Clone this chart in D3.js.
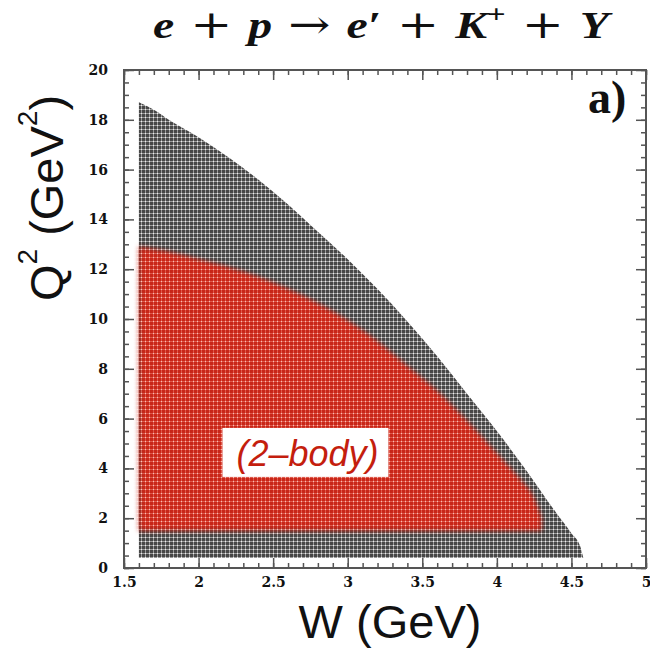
<!DOCTYPE html>
<html>
<head>
<meta charset="utf-8">
<script src="https://cdn.jsdelivr.net/npm/d3@7"></script>
<style>
  body { margin: 0; background: #fff; }
</style>
</head>
<body>
<script>
// Kinematic coverage
// outer (gray) region: upper Q2 edge for each W
var wGray = [1.60, 1.70, 1.80, 2.00, 2.20, 2.40, 2.60, 2.80, 3.00, 3.20, 3.40, 3.60, 3.80, 4.00, 4.20, 4.40, 4.50, 4.56, 4.58];
var q2GrayMax = [18.7, 18.4, 18.0, 17.3, 16.5, 15.6, 14.6, 13.5, 12.4, 11.2, 9.9, 8.5, 7.0, 5.5, 3.9, 2.2, 1.4, 0.85, 0.4];
var q2GrayMin = 0.4;

// 2-body (red) region
var wRed = [1.60, 1.80, 2.00, 2.30, 2.60, 2.90, 3.20, 3.40, 3.60, 3.80, 4.00, 4.15, 4.25, 4.30];
var q2RedMax = [12.9, 12.7, 12.4, 11.9, 11.2, 10.3, 9.1, 8.1, 7.1, 5.9, 4.6, 3.6, 2.8, 2.0];
var q2RedMin = 1.5;

// axes
var xMajor = [1.5, 2, 2.5, 3, 3.5, 4, 4.5, 5];
var xTickLabels = ['1.5', '2', '2.5', '3', '3.5', '4', '4.5', '5'];
var yMajor = [0, 2, 4, 6, 8, 10, 12, 14, 16, 18, 20];
var yTickLabels = ['0', '2', '4', '6', '8', '10', '12', '14', '16', '18', '20'];

// where the "(2-body)" tag sits (data units)
var tagW = 2.73, tagQ2 = 4.1;

window.onload = function(){
    var svg = d3.select('body')
        .append('svg')
        .attr('width', 650)
        .attr('height', 652);

    var x = d3.scaleLinear().domain([1.5, 5]).range([124, 646]);
    var y = d3.scaleLinear().domain([0, 20]).range([568, 70]);

    var defs = svg.append('defs');

    // histogram-box texture, gray
    var gp = defs.append('pattern')
        .attr('id', 'grayPat')
        .attr('patternUnits', 'userSpaceOnUse')
        .attr('width', 4).attr('height', 4);
    gp.append('rect').attr('width', 4).attr('height', 4).attr('fill', '#474747');
    gp.append('rect').attr('y', 1).attr('width', 4).attr('height', 1).attr('fill', '#9c9c9c');
    gp.append('rect').attr('x', 1).attr('width', 1).attr('height', 4).attr('fill', '#9c9c9c');
    gp.append('rect').attr('x', 1).attr('y', 1).attr('width', 1).attr('height', 1).attr('fill', '#eeeeee');

    // same texture, red
    var rp = defs.append('pattern')
        .attr('id', 'redPat')
        .attr('patternUnits', 'userSpaceOnUse')
        .attr('width', 4).attr('height', 4);
    rp.append('rect').attr('width', 4).attr('height', 4).attr('fill', '#c82618');
    rp.append('rect').attr('y', 1).attr('width', 4).attr('height', 1).attr('fill', '#e0584a');
    rp.append('rect').attr('x', 1).attr('width', 1).attr('height', 4).attr('fill', '#e0584a');
    rp.append('rect').attr('x', 1).attr('y', 1).attr('width', 1).attr('height', 1).attr('fill', '#f6c0b8');

    defs.append('filter').attr('id', 'soft')
        .append('feGaussianBlur').attr('stdDeviation', 2.5);

    var grayArea = d3.area()
        .x(function(d){ return x(d[0]); })
        .y0(y(q2GrayMin))
        .y1(function(d){ return y(d[1]); })
        .curve(d3.curveMonotoneX);

    var redArea = d3.area()
        .x(function(d){ return x(d[0]); })
        .y0(y(q2RedMin))
        .y1(function(d){ return y(d[1]); })
        .curve(d3.curveMonotoneX);

    var grayPts = d3.zip(wGray, q2GrayMax);
    var redPts = d3.zip(wRed, q2RedMax);

    svg.append('path')
        .attr('d', grayArea(grayPts))
        .attr('fill', 'url(#grayPat)');

    // red region gets soft edges via a blurred mask
    defs.append('mask')
        .attr('id', 'redMask')
        .attr('maskUnits', 'userSpaceOnUse')
        .attr('x', 0).attr('y', 0).attr('width', 650).attr('height', 652)
        .append('path')
        .attr('d', redArea(redPts))
        .attr('fill', '#fff')
        .attr('filter', 'url(#soft)');

    svg.append('rect')
        .attr('x', x(1.5)).attr('y', y(20))
        .attr('width', x(5) - x(1.5)).attr('height', y(0) - y(20))
        .attr('fill', 'url(#redPat)')
        .attr('mask', 'url(#redMask)');

    // "(2-body)" tag
    var tx = x(tagW), ty = y(tagQ2);
    svg.append('rect')
        .attr('x', tx - 85).attr('y', ty - 38)
        .attr('width', 166).attr('height', 49)
        .attr('fill', '#fff');
    svg.append('text')
        .attr('x', tx).attr('y', ty)
        .attr('text-anchor', 'middle')
        .attr('font-family', 'Liberation Sans, Arial, sans-serif')
        .attr('font-style', 'italic')
        .attr('font-size', 36)
        .attr('fill', '#c41e0e')
        .text('(2\u2013body)');

    // frame
    svg.append('rect')
        .attr('x', x(1.5)).attr('y', y(20))
        .attr('width', x(5) - x(1.5)).attr('height', y(0) - y(20))
        .attr('fill', 'none')
        .attr('stroke', '#555')
        .attr('stroke-width', 2);

    function styleTicks(g){
        g.select('.domain').remove();
        g.selectAll('.tick line').attr('stroke', '#555').attr('stroke-width', 1.5);
        g.selectAll('text')
            .attr('font-family', 'DejaVu Serif, serif')
            .attr('font-weight', 'bold')
            .attr('font-size', 14)
            .attr('fill', '#111');
    }

    // bottom
    svg.append('g').attr('transform', 'translate(0,' + y(0) + ')')
        .call(d3.axisBottom(x).tickValues(x.ticks(35)).tickSize(-5).tickFormat(''))
        .call(styleTicks);
    svg.append('g').attr('transform', 'translate(0,' + y(0) + ')')
        .call(d3.axisBottom(x).tickValues(xMajor).tickSize(-10).tickPadding(9)
            .tickFormat(function(d, i){ return xTickLabels[i]; }))
        .call(styleTicks);
    // top
    svg.append('g').attr('transform', 'translate(0,' + y(20) + ')')
        .call(d3.axisTop(x).tickValues(x.ticks(35)).tickSize(-5).tickFormat(''))
        .call(styleTicks);
    svg.append('g').attr('transform', 'translate(0,' + y(20) + ')')
        .call(d3.axisTop(x).tickValues(xMajor).tickSize(-10).tickFormat(''))
        .call(styleTicks);
    // left
    svg.append('g').attr('transform', 'translate(' + x(1.5) + ',0)')
        .call(d3.axisLeft(y).tickValues(y.ticks(40)).tickSize(-5).tickFormat(''))
        .call(styleTicks);
    svg.append('g').attr('transform', 'translate(' + x(1.5) + ',0)')
        .call(d3.axisLeft(y).tickValues(yMajor).tickSize(-10).tickPadding(16)
            .tickFormat(function(d, i){ return yTickLabels[i]; }))
        .call(styleTicks);
    // right
    svg.append('g').attr('transform', 'translate(' + x(5) + ',0)')
        .call(d3.axisRight(y).tickValues(y.ticks(40)).tickSize(-5).tickFormat(''))
        .call(styleTicks);
    svg.append('g').attr('transform', 'translate(' + x(5) + ',0)')
        .call(d3.axisRight(y).tickValues(yMajor).tickSize(-10).tickFormat(''))
        .call(styleTicks);

    // panel tag
    svg.append('text')
        .attr('x', 588).attr('y', 113)
        .attr('font-family', 'Liberation Serif, serif')
        .attr('font-weight', 'bold')
        .attr('font-size', 46)
        .attr('fill', '#111')
        .text('a)');

    // axis titles
    svg.append('text')
        .attr('x', 390).attr('y', 638)
        .attr('text-anchor', 'middle')
        .attr('font-family', 'Liberation Sans, Arial, sans-serif')
        .attr('font-size', 47)
        .attr('fill', '#111')
        .text('W (GeV)');

    var yt = svg.append('text')
        .attr('transform', 'translate(63,198) rotate(-90)')
        .attr('text-anchor', 'middle')
        .attr('font-family', 'Liberation Sans, Arial, sans-serif')
        .attr('font-size', 47)
        .attr('fill', '#111')
        .style('white-space', 'pre');
    yt.append('tspan').text('Q');
    yt.append('tspan').attr('font-size', 28).attr('dy', -26).text('2');
    yt.append('tspan').attr('dy', 26).text(' (GeV');
    yt.append('tspan').attr('font-size', 28).attr('dy', -26).text('2');
    yt.append('tspan').attr('dy', 26).text(')');

    // reaction title, stretched to the width it has in the figure
    var tg = svg.append('g');
    var tt = tg.append('text')
        .attr('font-family', 'Liberation Serif, serif')
        .attr('font-size', 38)
        .attr('fill', '#111')
        .style('white-space', 'pre');
    function sym(s){ tt.append('tspan').attr('font-style', 'italic').attr('font-weight', 'bold').text(s); }
    function op(s){ tt.append('tspan').attr('font-family', 'DejaVu Serif, serif').attr('font-size', 40).text(s); }
    sym('e'); op(' + '); sym('p'); op(' \u2192 '); sym('e\u2032'); op(' + ');
    sym('K');
    tt.append('tspan').attr('font-weight', 'bold').attr('font-size', 26).attr('dy', -15).text('+');
    tt.append('tspan').attr('font-family', 'DejaVu Serif, serif').attr('font-size', 40).attr('dy', 15).text(' + ');
    sym('Y');
    var bb = tt.node().getBBox();
    var sx = (614 - 153) / bb.width;
    tg.attr('transform', 'translate(' + (153 - bb.x * sx) + ',38) scale(' + sx + ',1)');
};
</script>
</body>
</html>
